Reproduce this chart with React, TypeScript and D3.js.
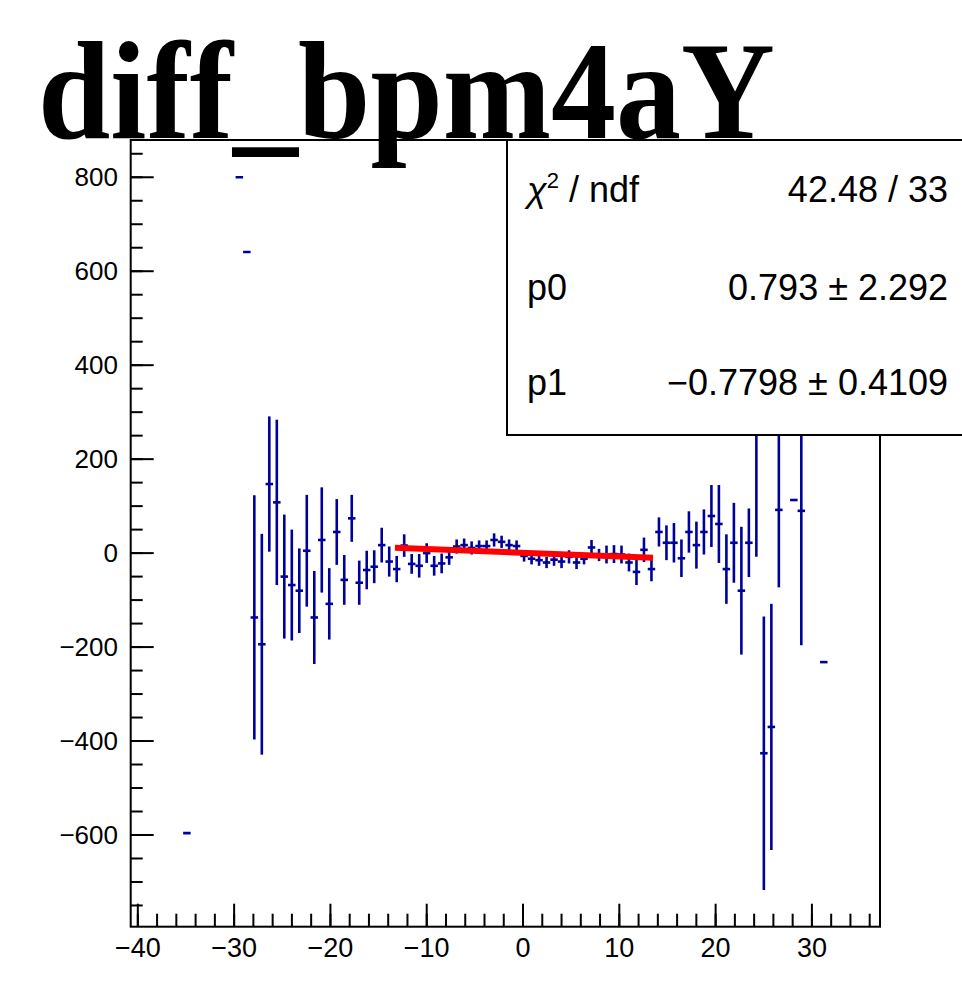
import React from "react";
import * as d3 from "d3";

// Histogram definition (100 bins)
const X_MIN = -40.74;
const X_MAX = 37.07;
const N_BINS = 100;
const Y_MIN = -795.2;
const Y_MAX = 879.3;

// Filled bins: bin index, content, error
const binIndex = [7, 14, 15, 16, 17, 18, 19, 20, 21, 22, 23, 24, 25, 26, 27, 28, 29, 30, 31, 32, 33, 34, 35, 36, 37, 38, 39, 40, 41, 42, 43, 44, 45, 46, 47, 48, 49, 50, 51, 52, 53, 54, 55, 56, 57, 58, 59, 60, 61, 62, 63, 64, 65, 66, 67, 68, 69, 70, 71, 72, 73, 74, 75, 76, 77, 78, 79, 80, 81, 82, 83, 84, 85, 86, 88, 89, 92];
const binValue = [-596, 800, 641, -137, -194, 147, 108, -50, -68, -80, 5, -137, 28, -108, 45, -57, 74, -63, -36, -29, 17, -18, -34, 16, -23, -27, 0, -27, -22, -9, 14, 17, 11, 15, 15, 28, 24, 17, 15, -6, -12, -15, -20, -14, -18, -8, -20, -12, 12, -4, -3, -2, -3, -20, -40, 7, -34, 45, 22, 22, -11, 45, 17, 45, 79, 62, -34, 22, -80, 22, 290, -426, -370, 92, 113, 90, -232];
const binError = [0, 0, 0, 260, 235, 144, 176, 132, 118, 90, 119, 99, 112, 76, 70, 53, 50, 47, 41, 35, 37, 32, 28, 24, 21, 25, 21, 21, 21, 16, 15, 14, 14, 12, 12, 14, 13, 12, 12, 12, 12, 12, 12, 13, 14, 14, 14, 12, 16, 13, 19, 19, 19, 19, 28, 26, 26, 31, 37, 42, 40, 44, 50, 48, 66, 83, 74, 85, 136, 73, 298, 291, 262, 165, 0, 286, 0];

// Fit pol1
const fitRange = [-13.3, 13.5];
const p0 = 0.793;
const p1 = -0.7798;

const xMajorTicks = [-40, -30, -20, -10, 0, 10, 20, 30];
const xMinorTicks = d3.range(-40, 37, 2);
const yMajorTicks = [-600, -400, -200, 0, 200, 400, 600, 800];
const yMinorTicks = d3.range(-750, 851, 50);

const titleText = "diff_bpm4aY";
const statsLabels = ["p0", "p1"];
const statsValues = ["0.793 \u00b1 2.292", "\u22120.7798 \u00b1 0.4109"];
const chiValue = "42.48 / 33";

const fmt = (v: number) => (v < 0 ? "\u2212" + Math.abs(v) : String(v));

export default function App() {
  const L = 130.7, R = 880, T = 140, B = 926.7;
  const x = d3.scaleLinear().domain([X_MIN, X_MAX]).range([L, R]);
  const y = d3.scaleLinear().domain([Y_MIN, Y_MAX]).range([B, T]);
  const bw = (X_MAX - X_MIN) / N_BINS;
  const navy = "#00009a";
  const fitLine = d3.line<number>().x((d) => x(d)).y((d) => y(p0 + p1 * d));

  return (
    <svg width={962} height={982} style={{ position: "absolute", left: 0, top: 0, background: "#fff" }} fontFamily="'Liberation Sans', Arial, sans-serif">
      <defs>
        <clipPath id="frame">
          <rect x={L} y={T} width={R - L} height={B - T} />
        </clipPath>
      </defs>
      <rect x={0} y={0} width={962} height={982} fill="#fff" />
      {/* data */}
      <g clipPath="url(#frame)" stroke={navy} strokeWidth={2.6}>
        {binIndex.map((k, i) => {
          const lo = X_MIN + k * bw;
          const hi = lo + bw;
          const c = (lo + hi) / 2;
          const v = binValue[i];
          const e = binError[i];
          return (
            <g key={k}>
              <line x1={x(lo)} x2={x(hi)} y1={y(v)} y2={y(v)} />
              {e > 0 && <line x1={x(c)} x2={x(c)} y1={y(v + e)} y2={y(v - e)} />}
            </g>
          );
        })}
        <path d={fitLine(fitRange) || ""} stroke="#ff0000" strokeWidth={6} fill="none" />
      </g>
      {/* frame */}
      <rect x={L} y={T} width={R - L} height={B - T} fill="none" stroke="#000" strokeWidth={2} />
      {/* ticks */}
      <g stroke="#000" strokeWidth={2}>
        {xMinorTicks.map((t) => (
          <line key={"xm" + t} x1={x(t)} x2={x(t)} y1={B} y2={B - 13} />
        ))}
        {xMajorTicks.map((t) => (
          <line key={"xM" + t} x1={x(t)} x2={x(t)} y1={B} y2={B - 23} />
        ))}
        {yMinorTicks.map((t) => (
          <line key={"ym" + t} x1={L} x2={L + 12} y1={y(t)} y2={y(t)} />
        ))}
        {yMajorTicks.map((t) => (
          <line key={"yM" + t} x1={L} x2={L + 23} y1={y(t)} y2={y(t)} />
        ))}
      </g>
      <g fill="#000">
        {xMajorTicks.map((t) => (
          <text key={"xl" + t} x={x(t)} y={957} fontSize={27} textAnchor="middle">{fmt(t)}</text>
        ))}
        {yMajorTicks.map((t) => (
          <text key={"yl" + t} x={118} y={y(t)} fontSize={26} dy="0.35em" textAnchor="end">{fmt(t)}</text>
        ))}
      </g>
      {/* stats box */}
      <rect x={507} y={140} width={470} height={295} fill="#fff" stroke="#000" strokeWidth={2} />
      <g fontSize={36} fill="#000">
        <text x={527} y={202}>
          <tspan fontStyle="italic">{"\u03c7"}</tspan>
          <tspan fontSize={22} dy={-14}>2</tspan>
          <tspan dy={14}>{" / ndf"}</tspan>
        </text>
        <text x={948} y={202} textAnchor="end">{chiValue}</text>
        {statsLabels.map((s, i) => (
          <g key={s}>
            <text x={527} y={300 + i * 95}>{s}</text>
            <text x={948} y={300 + i * 95} textAnchor="end">{statsValues[i]}</text>
          </g>
        ))}
      </g>
      {/* title */}
      <text x={38} y={138} fontFamily="'Liberation Serif', 'Times New Roman', serif" fontWeight="bold" fontSize={140} textLength={737} lengthAdjust="spacingAndGlyphs" fill="#000">
        {titleText}
      </text>
    </svg>
  );
}
